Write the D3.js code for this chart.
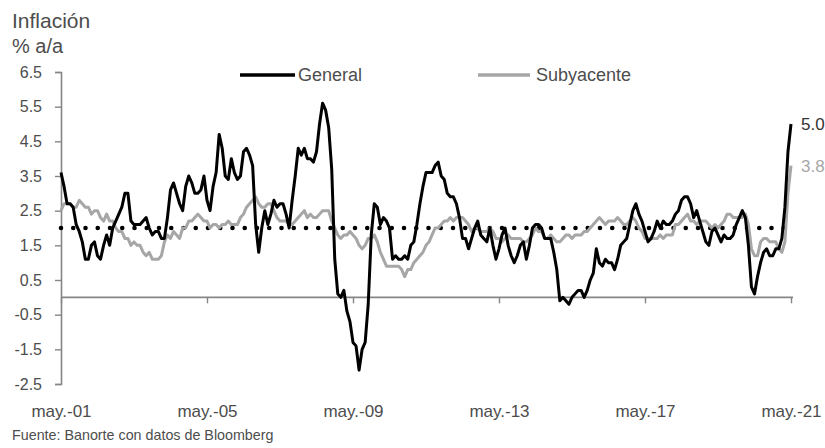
<!DOCTYPE html>
<html>
<head>
<meta charset="utf-8">
<script src="https://cdn.jsdelivr.net/npm/d3@7"></script>
<style>
  body { margin: 0; background: #fff; }
  text { font-family: "Liberation Sans", Arial, sans-serif; }
</style>
</head>
<body>
<svg id="chart" width="825" height="448"></svg>
<script>
// US CPI, % year over year, monthly from May 2001 to May 2021
const startMonth = new Date(2001, 4, 1);

const general = [
  3.6, 3.2, 2.7, 2.7, 2.6, 2.1, 1.9, 1.6,                    // 2001 (may-dic)
  1.1, 1.1, 1.5, 1.6, 1.2, 1.1, 1.5, 1.8, 1.5, 2.0, 2.2, 2.4, // 2002
  2.6, 3.0, 3.0, 2.2, 2.1, 2.1, 2.1, 2.2, 2.3, 2.0, 1.8, 1.9, // 2003
  1.9, 1.7, 1.7, 2.3, 3.1, 3.3, 3.0, 2.7, 2.5, 3.2, 3.5, 3.3, // 2004
  3.0, 3.0, 3.1, 3.5, 2.8, 2.5, 3.2, 3.6, 4.7, 4.3, 3.5, 3.4, // 2005
  4.0, 3.6, 3.4, 3.5, 4.2, 4.3, 4.1, 3.8, 2.1, 1.3, 2.0, 2.5, // 2006
  2.1, 2.4, 2.8, 2.6, 2.7, 2.7, 2.4, 2.0, 2.8, 3.5, 4.3, 4.1, // 2007
  4.3, 4.0, 4.0, 3.9, 4.2, 5.0, 5.6, 5.4, 4.9, 3.7, 1.1, 0.1, // 2008
  0.0, 0.2, -0.4, -0.7, -1.3, -1.4, -2.1, -1.5, -1.3, -0.2, 1.8, 2.7, // 2009
  2.6, 2.1, 2.3, 2.2, 2.0, 1.1, 1.2, 1.1, 1.1, 1.2, 1.1, 1.5, // 2010
  1.6, 2.1, 2.7, 3.2, 3.6, 3.6, 3.6, 3.8, 3.9, 3.5, 3.4, 3.0, // 2011
  2.9, 2.9, 2.7, 2.3, 1.7, 1.7, 1.4, 1.7, 2.0, 2.2, 1.8, 1.7, // 2012
  1.6, 2.0, 1.5, 1.1, 1.4, 1.8, 2.0, 1.5, 1.2, 1.0, 1.2, 1.5, // 2013
  1.6, 1.1, 1.5, 2.0, 2.1, 2.1, 2.0, 1.7, 1.7, 1.7, 1.3, 0.8, // 2014
  -0.1, 0.0, -0.1, -0.2, 0.0, 0.1, 0.2, 0.2, 0.0, 0.2, 0.5, 0.7, // 2015
  1.4, 1.0, 0.9, 1.1, 1.0, 1.0, 0.8, 1.1, 1.5, 1.6, 1.7, 2.1, // 2016
  2.5, 2.7, 2.4, 2.2, 1.9, 1.6, 1.7, 1.9, 2.2, 2.0, 2.2, 2.1, // 2017
  2.1, 2.2, 2.4, 2.5, 2.8, 2.9, 2.9, 2.7, 2.3, 2.5, 2.2, 1.9, // 2018
  1.6, 1.5, 1.9, 2.0, 1.8, 1.6, 1.8, 1.7, 1.7, 1.8, 2.1, 2.3, // 2019
  2.5, 2.3, 1.5, 0.3, 0.1, 0.6, 1.0, 1.3, 1.4, 1.2, 1.2, 1.4, // 2020
  1.4, 1.7, 2.6, 4.2, 5.0                                     // 2021 (ene-may)
];

const core = [
  2.5, 2.7, 2.7, 2.7, 2.6, 2.6, 2.8, 2.7,                    // 2001 (may-dic)
  2.6, 2.6, 2.4, 2.5, 2.5, 2.3, 2.2, 2.4, 2.2, 2.2, 2.0, 1.9, // 2002
  1.9, 1.7, 1.7, 1.5, 1.6, 1.5, 1.5, 1.3, 1.2, 1.3, 1.1, 1.1, // 2003
  1.1, 1.2, 1.6, 1.8, 1.7, 1.9, 1.8, 1.7, 2.0, 2.0, 2.2, 2.2, // 2004
  2.3, 2.4, 2.3, 2.2, 2.2, 2.0, 2.1, 2.1, 2.0, 2.1, 2.1, 2.2, // 2005
  2.1, 2.1, 2.1, 2.3, 2.4, 2.6, 2.7, 2.8, 2.9, 2.7, 2.6, 2.6, // 2006
  2.7, 2.7, 2.5, 2.3, 2.2, 2.2, 2.2, 2.1, 2.1, 2.2, 2.3, 2.4, // 2007
  2.5, 2.3, 2.4, 2.3, 2.3, 2.4, 2.5, 2.5, 2.5, 2.2, 2.0, 1.8, // 2008
  1.7, 1.8, 1.8, 1.9, 1.8, 1.7, 1.5, 1.4, 1.5, 1.7, 1.7, 1.8, // 2009
  1.6, 1.3, 1.1, 0.9, 0.9, 0.9, 0.9, 0.9, 0.8, 0.6, 0.8, 0.8, // 2010
  1.0, 1.1, 1.2, 1.3, 1.5, 1.6, 1.8, 2.0, 2.0, 2.1, 2.2, 2.2, // 2011
  2.3, 2.2, 2.3, 2.3, 2.3, 2.2, 2.1, 1.9, 2.0, 2.0, 1.9, 1.9, // 2012
  1.9, 2.0, 1.9, 1.7, 1.7, 1.6, 1.7, 1.8, 1.7, 1.7, 1.7, 1.7, // 2013
  1.6, 1.6, 1.7, 1.8, 2.0, 1.9, 1.9, 1.7, 1.7, 1.8, 1.7, 1.6, // 2014
  1.6, 1.7, 1.8, 1.8, 1.7, 1.8, 1.8, 1.8, 1.9, 1.9, 2.0, 2.1, // 2015
  2.2, 2.3, 2.2, 2.1, 2.2, 2.2, 2.2, 2.3, 2.2, 2.1, 2.1, 2.2, // 2016
  2.3, 2.2, 2.0, 1.9, 1.7, 1.7, 1.7, 1.7, 1.7, 1.8, 1.7, 1.8, // 2017
  1.8, 1.8, 2.1, 2.1, 2.2, 2.3, 2.4, 2.2, 2.2, 2.1, 2.2, 2.2, // 2018
  2.2, 2.1, 2.0, 2.1, 2.0, 2.1, 2.2, 2.4, 2.4, 2.3, 2.3, 2.3, // 2019
  2.3, 2.4, 2.1, 1.4, 1.2, 1.2, 1.6, 1.7, 1.7, 1.6, 1.6, 1.6, // 2020
  1.4, 1.3, 1.6, 3.0, 3.8                                     // 2021 (ene-may)
];

// Fed inflation target
const target = [2.0];

const seriesNames = ["General", "Subyacente"];
const seriesColors = ["#000000", "#a6a6a6"];

const yTicks = [6.5, 5.5, 4.5, 3.5, 2.5, 1.5, 0.5, -0.5, -1.5, -2.5];
const xTickMonths = [0, 48, 96, 144, 192, 240];
const xTickLabels = ["may.-01", "may.-05", "may.-09", "may.-13", "may.-17", "may.-21"];

const months = general.map((_, i) => d3.timeMonth.offset(startMonth, i));

const svg = d3.select("#chart");
const textColor = "#4d4d4d";
const axisColor = "#868686";

const x = d3.scaleLinear().domain([0, months.length - 1]).range([61, 791]);
const y = d3.scaleLinear().domain([-2.5, 6.5]).range([384, 72]);

// Titles
svg.append("text").attr("x", 12).attr("y", 28)
  .attr("font-size", 21).attr("fill", textColor).text("Inflación");
svg.append("text").attr("x", 12).attr("y", 53)
  .attr("font-size", 20).attr("fill", textColor).text("% a/a");

// Y axis
const yAxis = svg.append("g").attr("transform", "translate(61,0)")
  .call(d3.axisLeft(y).tickValues(yTicks).tickSize(6).tickPadding(13)
    .tickFormat(d => d.toFixed(1)));
yAxis.select(".domain").attr("stroke", axisColor).attr("stroke-width", 1.6);
yAxis.selectAll(".tick line").attr("stroke", axisColor).attr("stroke-width", 1.4);
yAxis.selectAll(".tick text").attr("font-size", 16).attr("fill", textColor)
  .attr("font-family", "Liberation Sans, Arial, sans-serif");

// X axis on the zero line (tick marks only)
const xAxisZero = svg.append("g").attr("transform", `translate(0,${y(0)})`)
  .call(d3.axisBottom(x).tickValues(xTickMonths).tickSize(6).tickSizeOuter(0)
    .tickFormat(""));
xAxisZero.select(".domain").attr("stroke", axisColor).attr("stroke-width", 1.6)
  .attr("d", `M${x(0)},0H${x(months.length - 1) + 2}`);
xAxisZero.selectAll(".tick line").attr("stroke", axisColor).attr("stroke-width", 1.4);

// X labels along the bottom
const xAxisLabels = svg.append("g").attr("transform", "translate(0,405)")
  .call(d3.axisBottom(x).tickValues(xTickMonths).tickSize(0).tickPadding(0)
    .tickFormat((d, i) => xTickLabels[i]));
xAxisLabels.select(".domain").remove();
xAxisLabels.selectAll(".tick text").attr("font-size", 17).attr("fill", textColor)
  .attr("font-family", "Liberation Sans, Arial, sans-serif");

// Target line (dotted)
svg.selectAll(".target").data(target).enter().append("line")
  .attr("class", "target")
  .attr("x1", x(0)).attr("x2", x(months.length - 1) + 4)
  .attr("y1", d => y(d)).attr("y2", d => y(d))
  .attr("stroke", "#000").attr("stroke-width", 4.6)
  .attr("stroke-linecap", "round").attr("stroke-dasharray", "0,12.25");

// Series lines (core first so the headline sits on top)
const line = d3.line().x((d, i) => x(i)).y(d => y(d));
const seriesData = [general, core];
svg.selectAll(".series").data([core, general]).enter().append("path")
  .attr("class", "series")
  .attr("d", line)
  .attr("fill", "none")
  .attr("stroke", d => d === general ? seriesColors[0] : seriesColors[1])
  .attr("stroke-width", 3)
  .attr("stroke-linejoin", "round");

// End-of-series value labels
seriesData.forEach((s, k) => {
  const last = s[s.length - 1];
  svg.append("text")
    .attr("x", 801).attr("y", y(last))
    .attr("dy", "0.36em")
    .attr("font-size", 17)
    .attr("fill", k === 0 ? "#333333" : seriesColors[1])
    .text(last.toFixed(1));
});

// Legend
const legendPos = [{ x1: 240, x2: 295, tx: 298 }, { x1: 478, x2: 530, tx: 536 }];
seriesNames.forEach((name, k) => {
  const p = legendPos[k];
  svg.append("line").attr("x1", p.x1).attr("x2", p.x2).attr("y1", 75).attr("y2", 75)
    .attr("stroke", seriesColors[k]).attr("stroke-width", 3.5);
  svg.append("text").attr("x", p.tx).attr("y", 75).attr("dy", "0.36em")
    .attr("font-size", 18).attr("fill", textColor).text(name);
});

// Source note
svg.append("text").attr("x", 12).attr("y", 440)
  .attr("font-size", 14.3).attr("fill", textColor)
  .text("Fuente: Banorte con datos de Bloomberg");
</script>
</body>
</html>
